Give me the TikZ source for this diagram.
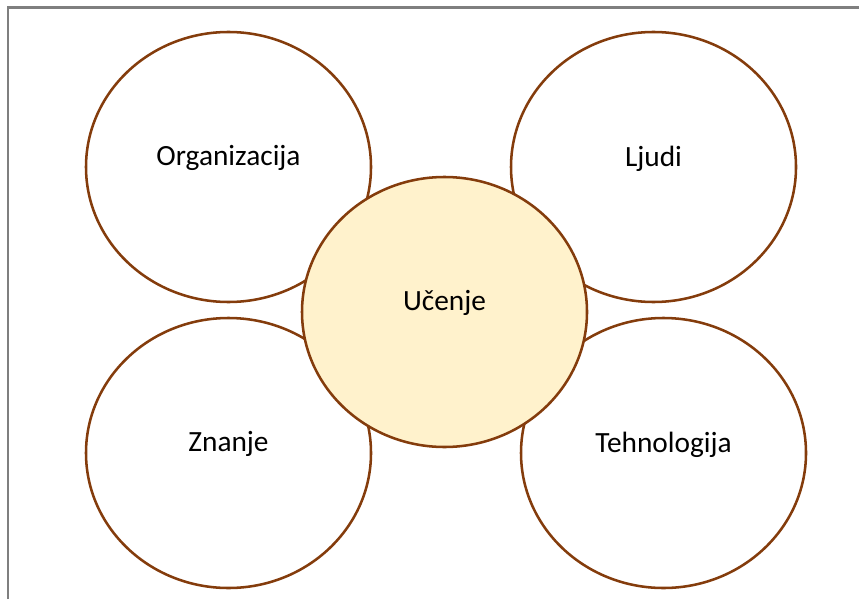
\documentclass[tikz,border=0pt]{standalone}
\usepackage{fontspec}
\setmainfont{Carlito}
\usepackage{tikz}
\usetikzlibrary{shapes.geometric}
\definecolor{smeda}{HTML}{843C0C}
\definecolor{zuta}{HTML}{FFF2CC}
\definecolor{okvir}{HTML}{7F7F7F}

\begin{document}
\begin{tikzpicture}[x=0.75pt,y=-0.75pt]
        \tikzstyle{every node} = [font=\fontsize{22}{26}\selectfont]
        \tikzstyle{krug} = [ellipse, draw=smeda, line width=1.9pt, fill=white, minimum width=213.75pt, minimum height=202.5pt, inner sep=0pt]
        \useasboundingbox (0,0) rectangle (859,599);
        \draw[okvir, line width=1.6pt] (8,599) -- (8,7.5) -- (859,7.5);

        \foreach \ime/\x/\y/\tekst in {org/228.5/167/Organizacija, lju/653.5/167/Ljudi, zna/228.5/453/Znanje, teh/663.5/453/Tehnologija}
            \node[krug, label={[yshift=6.5pt]center:\tekst}] (\ime) at (\x,\y) {};

        \node[krug, fill=zuta, label={[yshift=6.5pt]center:Učenje}] (uce) at (444.5,312) {};
      \end{tikzpicture}
\end{document}
